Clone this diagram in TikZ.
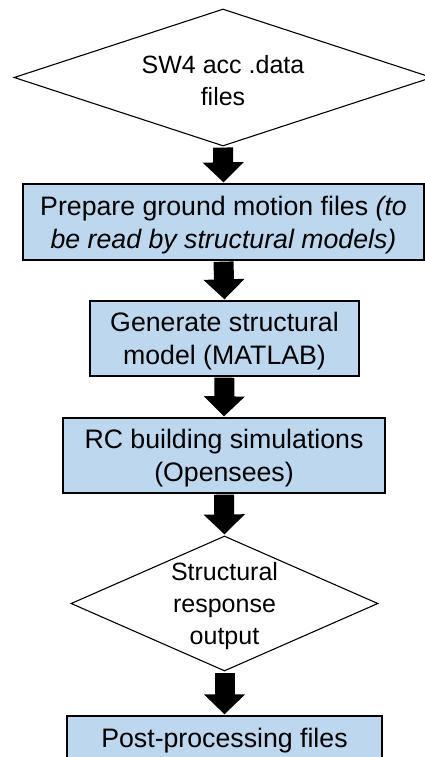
\documentclass[tikz,border=0pt]{standalone}
\usepackage{fontspec}
\setmainfont{Liberation Sans}
\usetikzlibrary{shapes.geometric,arrows.meta}
\definecolor{boxblue}{RGB}{189,215,238}
\tikzset{
  procbox/.style={draw=black, line width=1.3pt, fill=boxblue, inner sep=0pt},
  boxtext/.style={align=center, inner sep=0pt, font=\fontsize{26.7pt}{33pt}\selectfont},
  decbox/.style={diamond, draw=black, line width=1.1pt, fill=white, inner sep=0pt, aspect=3},
  dectext/.style={align=center, inner sep=0pt, font=\fontsize{25pt}{32pt}\selectfont},
  flowarrow/.style={line width=20pt, -{Triangle[width=40pt,length=20pt]}, shorten <=1pt, shorten >=1pt}
}
\begin{document}
\begin{tikzpicture}[x=1pt,y=-1pt]
\useasboundingbox (0,0) rectangle (425,757);
\node[decbox, minimum width=418pt, minimum height=137pt] (d1) at (223,77.5) {};
\node[dectext] (t1) at ([yshift=-3pt]d1.center) {SW4 acc .data\\files};
\node[procbox, minimum width=401pt, minimum height=76pt] (b1) at (223.5,222) {};
\node[boxtext] (t2) at ([yshift=-3pt]b1.center)
  {Prepare ground motion files \textit{(to}\\\textit{be read by structural models)}};
\node[procbox, minimum width=269pt, minimum height=75pt] (b2) at (224.5,338.5) {};
\node[boxtext] (t3) at ([yshift=-3pt]b2.center) {Generate structural\\model (MATLAB)};
\node[procbox, minimum width=322pt, minimum height=75pt] (b3) at (224,455.5) {};
\node[boxtext] (t4) at ([yshift=-3pt]b3.center) {RC building simulations\\(Opensees)};
\node[decbox, minimum width=307pt, minimum height=135pt] (d2) at (224.5,603.5) {};
\node[dectext] (t5) at ([yshift=-3pt]d2.center) {Structural\\response\\output};
\node[procbox, minimum width=315pt, minimum height=46pt] (b4) at (224.5,739) {};
\node[boxtext] (t6) at ([yshift=-1.5pt]b4.center) {Post-processing files};
\draw[flowarrow] (d1.south) -- (b1.north);
\draw[flowarrow] (b1.south) -- (b2.north);
\draw[flowarrow] (b2.south) -- (b3.north);
\draw[flowarrow] (b3.south) -- (d2.north);
\draw[flowarrow] (d2.south) -- (b4.north);
\end{tikzpicture}
\end{document}
